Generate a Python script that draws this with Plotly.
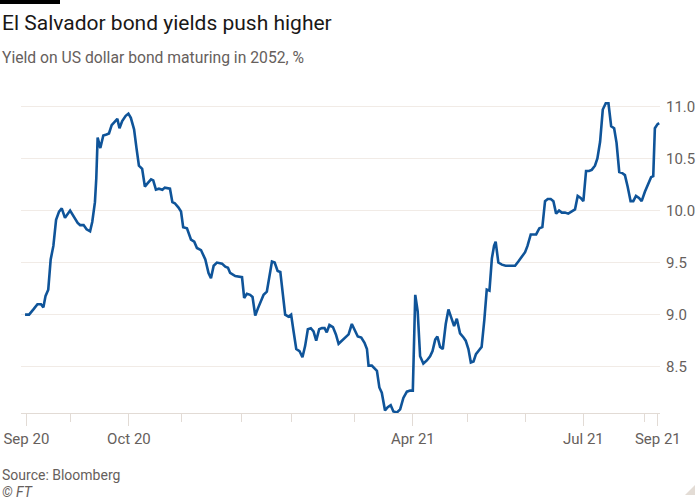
import plotly.graph_objects as go

# ---- data (trading-day index, yield %) ----
trading_day = [
    0.0, 1.5, 3.1, 4.6, 5.9, 6.8, 7.6, 8.6, 9.5, 10.5, 11.5, 12.6, 13.6, 14.8, 16.7, 17.9,
    19.5, 20.4, 21.7, 22.8, 24.1, 24.9, 25.9, 26.4, 26.9, 27.9, 29.0, 30.2, 31.1, 32.1, 33.3,
    34.2, 35.0, 36.0, 37.3, 38.3, 39.2, 40.4, 41.3, 42.2, 43.4, 44.4, 45.7, 46.7, 47.5, 48.5,
    49.6, 50.9, 51.8, 53.7, 54.6, 55.5, 56.8, 57.8, 58.6, 60.0, 61.5, 62.7, 63.7, 65.2, 66.8,
    68.0, 68.9, 69.9, 71.1, 73.0, 74.2, 75.2, 76.0, 77.9, 80.4, 81.2, 82.2, 83.4, 84.3, 85.3,
    86.3, 87.4, 88.4, 89.6, 90.5, 91.5, 92.5, 93.6, 94.6, 95.5, 96.4, 97.6, 98.6, 99.5, 100.5,
    101.7, 102.8, 103.8, 104.8, 105.9, 106.9, 107.9, 109.0, 110.0, 111.0, 111.8, 112.8, 114.1,
    115.2, 116.2, 117.4, 118.6, 119.9, 121.1, 122.3, 123.3, 124.6, 125.8, 126.7, 127.3, 128.5,
    130.4, 131.3, 132.2, 133.4, 134.4, 135.5, 136.5, 137.8, 139.0, 140.2, 141.5, 142.7, 143.7,
    144.6, 145.5, 146.4, 147.6, 148.9, 150.1, 151.0, 152.0, 152.8, 153.8, 154.8, 155.9, 156.9,
    157.9, 159.0, 160.0, 161.2, 162.5, 163.3, 164.3, 165.2, 166.2, 167.1, 168.3, 169.2, 170.2,
    171.1, 172.1, 173.0, 173.8, 174.4, 175.4, 176.7, 178.1, 179.7, 181.6, 182.8, 184.1, 185.3,
    186.2, 187.4, 188.4, 189.4, 190.6, 191.7, 192.7, 193.7, 194.8, 195.8, 196.8, 197.9, 198.9,
    200.1, 201.3, 202.6, 203.8, 204.8, 205.9, 206.9, 207.9, 209.0, 210.0, 211.2, 212.1, 213.1,
    214.1, 215.2, 216.2, 217.2, 218.3, 219.2, 220.2, 221.3, 222.3, 223.3, 224.4, 225.4, 226.4,
    227.5, 228.5, 229.7, 231.0, 232.0, 232.8, 233.4, 234.4, 235.0,
]
yield_pct = [
    9.00, 9.00, 9.05, 9.10, 9.10, 9.07, 9.18, 9.24, 9.53, 9.66, 9.91, 9.99, 10.02, 9.93, 10.00, 9.95,
    9.88, 9.86, 9.86, 9.82, 9.80, 9.89, 10.08, 10.31, 10.70, 10.60, 10.72, 10.73, 10.74, 10.82, 10.85,
    10.88, 10.79, 10.86, 10.91, 10.93, 10.89, 10.78, 10.60, 10.43, 10.40, 10.23, 10.27, 10.30, 10.29, 10.20,
    10.21, 10.20, 10.22, 10.21, 10.08, 10.07, 10.03, 9.99, 9.84, 9.83, 9.72, 9.70, 9.64, 9.62, 9.53,
    9.40, 9.35, 9.47, 9.50, 9.49, 9.46, 9.45, 9.40, 9.37, 9.36, 9.16, 9.20, 9.19, 9.17, 8.99,
    9.06, 9.12, 9.19, 9.22, 9.38, 9.51, 9.50, 9.42, 9.41, 9.22, 9.00, 8.98, 9.00, 8.84, 8.67,
    8.65, 8.59, 8.70, 8.86, 8.87, 8.84, 8.75, 8.86, 8.87, 8.87, 8.83, 8.90, 8.88,
    8.81, 8.72, 8.75, 8.78, 8.81, 8.91, 8.84, 8.79, 8.78, 8.73, 8.67, 8.51, 8.51,
    8.46, 8.30, 8.25, 8.08, 8.11, 8.13, 8.07, 8.06, 8.09, 8.20, 8.26, 8.27, 8.27,
    9.19, 9.03, 8.60, 8.53, 8.56, 8.60, 8.65, 8.76, 8.79, 8.69, 8.67, 8.91, 9.05,
    8.97, 8.89, 8.96, 8.82, 8.78, 8.75, 8.67, 8.54, 8.55, 8.62, 8.66, 8.69, 8.95,
    9.24, 9.23, 9.54, 9.66, 9.70, 9.50, 9.48, 9.47, 9.47, 9.47, 9.51, 9.56, 9.60,
    9.66, 9.77, 9.77, 9.77, 9.83, 9.84, 10.09, 10.11, 10.11, 10.09, 9.97, 10.00, 9.98,
    9.98, 9.97, 9.99, 10.01, 10.14, 10.12, 10.09, 10.38, 10.38, 10.39, 10.43, 10.50, 10.66,
    10.97, 11.03, 11.03, 10.81, 10.79, 10.65, 10.37, 10.36, 10.34, 10.23, 10.09, 10.09, 10.14,
    10.12, 10.09, 10.18, 10.26, 10.32, 10.33, 10.79, 10.83, 10.84,
]

x_tick_days = [0.5, 38.5, 143.7, 206.9, 234.5]
x_tick_labels = ["Sep 20", "Oct 20", "Apr 21", "Jul 21", "Sep 21"]
x_minor_days = [17.0, 57.8, 80.2, 98.7, 122.2, 163.9, 185.6, 229.6]
y_tick_vals = [8.5, 9.0, 9.5, 10.0, 10.5, 11.0]
y_tick_labels = ["8.5", "9.0", "9.5", "10.0", "10.5", "11.0"]

# ---- layout geometry (pixels) ----
W, H = 700, 500
L, R, T, B = 21, 40, 96, 87
PW, PH = W - L - R, H - T - B


def px(x):
    return (x - L) / PW


def py(y):
    return (H - B - y) / PH


FONT = "Roboto, 'Noto Sans', sans-serif"
GRID = "#f1ebe6"
AXIS = "#e2dbd5"
GREY = "#66605c"

fig = go.Figure()
fig.add_trace(go.Scatter(
    x=trading_day, y=yield_pct, mode="lines",
    line=dict(color="#0f5499", width=2.6),
    hoverinfo="skip", showlegend=False,
))

fig.update_layout(
    template="none",
    width=W, height=H, autosize=False,
    margin=dict(l=L, r=R, t=T, b=B, pad=0),
    paper_bgcolor="white", plot_bgcolor="white",
    font=dict(family=FONT, color=GREY),
    showlegend=False,
    hovermode=False,
    xaxis=dict(
        automargin=False,
        range=[-1.5, 235.3],
        tickmode="array", tickvals=x_tick_days, ticktext=x_tick_labels,
        ticks="outside", ticklen=12, tickwidth=1, tickcolor=AXIS,
        showline=True, linecolor=AXIS, linewidth=1,
        showgrid=False, zeroline=False,
        tickfont=dict(size=15, color=GREY, family=FONT),
        minor=dict(tickmode="array", tickvals=x_minor_days, ticks="outside",
                   ticklen=8, tickwidth=1, tickcolor=AXIS, showgrid=False),
        fixedrange=True,
    ),
    yaxis=dict(
        automargin=False,
        side="right",
        range=[8.055, 11.1],
        tickmode="array", tickvals=y_tick_vals, ticktext=y_tick_labels,
        ticks="", showline=False, zeroline=False,
        showgrid=True, gridcolor=GRID, gridwidth=1,
        tickfont=dict(size=15, color=GREY, family=FONT),
        ticklabelstandoff=5,
        fixedrange=True,
    ),
)

annotations = [
    dict(text="El Salvador bond yields push higher", x=px(0), y=py(23),
         font=dict(size=21, color="#1a1817", family=FONT)),
    dict(text="Yield on US dollar bond maturing in 2052, %", x=px(0), y=py(57),
         font=dict(size=15.7, color=GREY, family=FONT)),
    dict(text="Source: Bloomberg", x=px(0), y=py(475),
         font=dict(size=14, color=GREY, family=FONT)),
    dict(text="<i>© FT</i>", x=px(0), y=py(492),
         font=dict(size=14, color=GREY, family=FONT)),
]
for a in annotations:
    a.update(xref="paper", yref="paper", xanchor="left", yanchor="middle",
             showarrow=False, align="left")
fig.update_layout(annotations=annotations)

fig.add_shape(type="rect", xref="paper", yref="paper",
              x0=px(0), x1=px(60), y0=py(4), y1=py(0),
              fillcolor="black", line_width=0, layer="above")
tri = "M {:.5f} {:.5f} L {:.5f} {:.5f} L {:.5f} {:.5f} Z".format(
    px(685), py(495), px(695), py(485), px(695), py(495))
fig.add_shape(type="path", xref="paper", yref="paper", path=tri,
              fillcolor="#e3dcd5", line_width=0, layer="above")

fig.write_html(
    "out.html",
    config={"displayModeBar": False, "staticPlot": True},
    post_script="document.body.style.margin='0';document.body.style.overflow='hidden';",
)
